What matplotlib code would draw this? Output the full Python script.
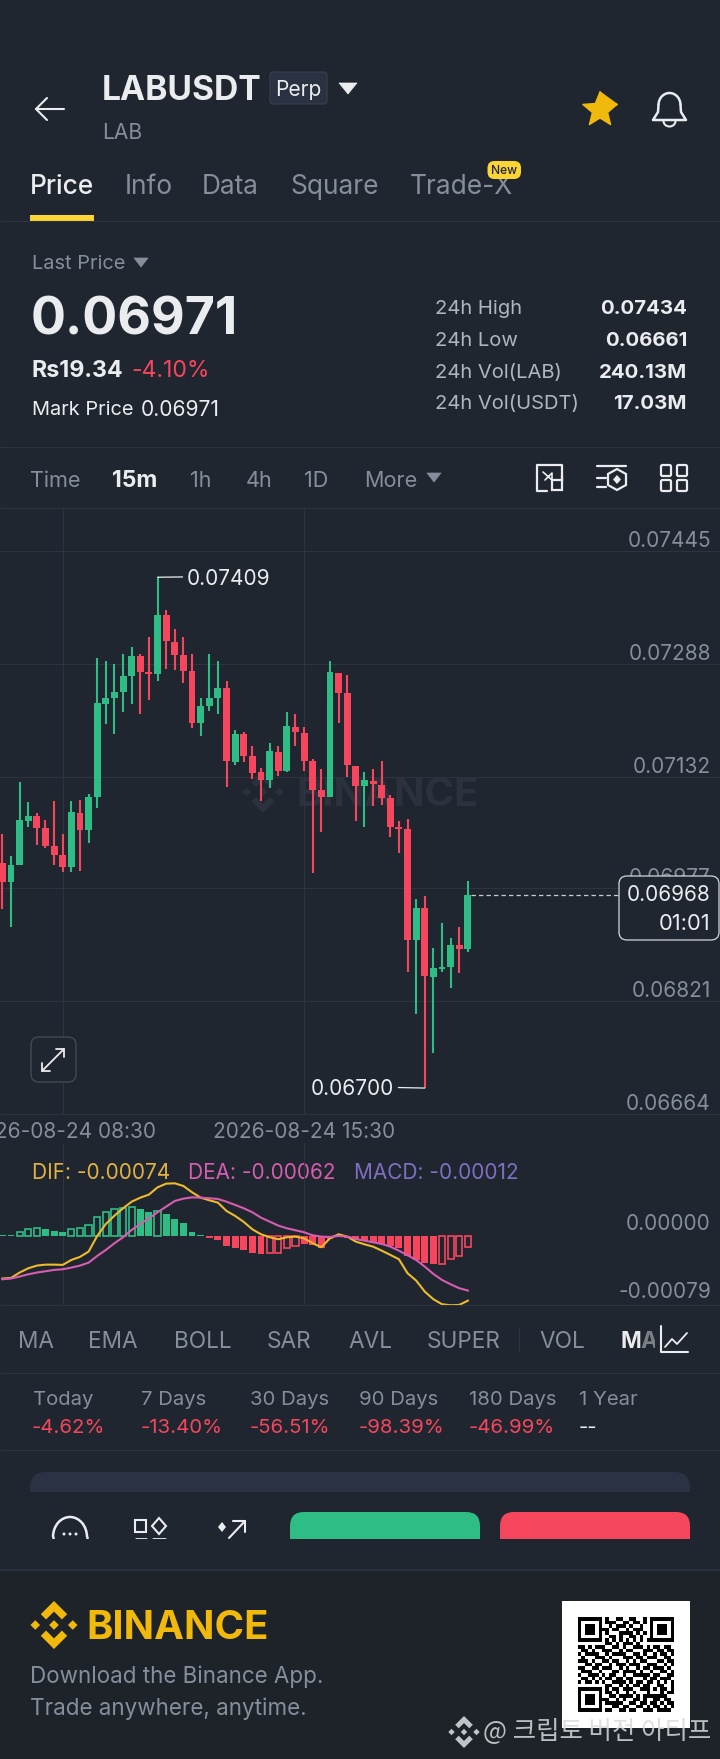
import numpy as np
import matplotlib
matplotlib.use("Agg")
import matplotlib.pyplot as plt
from matplotlib.patches import FancyBboxPatch, Polygon, Rectangle, Circle, Arc

# ---------- data (prices in 1e-5 USDT) ----------
highs = [7052.8,7022.7,7124.6,7097.7,7081.5,7072.2,7099,7052.8,7099,7100,7108.4,7296.8,7292.6,7288,7301.9,7312,7301.9,7326,7409,7363.9,7337.5,7326,7302.8,7241.7,7302.8,7292.6,7264.8,7196.3,
         7193.5,7175,7144.5,7179.2,7175,7221.3,7219.5,7200.9,7157,7143,7293.1,7276.4,7272.7,7147.2,7138.4,7143,7154.6,7107,7070.8,7073.6,6962.5,6967.1,6894.4,6928.7,6908.3,6924,6988]
lows = [6948.7,6924.1,7009.7,7063,7037.5,7032.9,7010.2,6999.5,6999.5,7001.9,7039.8,7088.4,7205.6,7191.7,7221.8,7233.4,7218.5,7238,7264.8,7282,7279.7,7262,7200,7188.9,7223.2,7218.5,7118.5,7147.7,
        7152.8,7129.2,7099.1,7116.2,7133.8,7138.4,7175,7139.8,6999.1,7055.1,7104.6,7207,7131.5,7071.3,7062,7092.1,7093.1,7048.1,7026.9,6860.6,6802.8,6700,6748.6,6860.6,6838.4,6859.7,6889.3]
opens = [7013,6985.7,7009.7,7071.3,7077.8,7061.6,7035.7,7023.6,7006.5,7082.4,7058.4,7103.7,7232.4,7240.8,7249.1,7271.3,7299.6,7277.4,7275,7356,7318.6,7301,7278.7,7206.9,7230.1,7240.8,7254.7,7151.9,
         7190.8,7160.7,7138,7126.9,7167.1,7140.3,7200.9,7192.1,7154.6,7113,7104.6,7275.9,7247.7,7147.2,7119.9,7126.4,7121.3,7103.2,7063,7060.2,6905.6,6949.5,6853.7,6865.7,6867.6,6899.1,6893]
closes = [6985.7,7009.7,7072.7,7077.8,7060.7,7036.6,7023.6,7007.4,7083.3,7058.4,7104.6,7234.8,7241.7,7249.1,7271.8,7299,7276.9,7274.6,7356,7320.4,7301.4,7278.7,7206.9,7229.7,7240.8,7254.7,7153.3,7190.8,
          7160.7,7137.5,7126.9,7168.1,7139.8,7202.8,7193.5,7154.6,7113.9,7104.2,7276.9,7248.2,7147.7,7119.9,7126.9,7122.2,7102.8,7063,7060.2,6905.6,6949.5,6855.1,6866.2,6868.5,6898.6,6892.6,6968]
price_ticks = [7445, 7288, 7132, 6977, 6821, 6664]
time_ticks = [7, 35]
time_labels = ["2026-08-24 08:30", "2026-08-24 15:30"]
last_price = 6968

# MACD, in 1e-5
dif = [-48.6,-47.9,-41.7,-36.8,-33.7,-32.6,-32.6,-32.9,-27.2,-23.7,-17.6,0.4,14.2,23.7,32.2,39.8,44.4,47.9,56.3,60.5,60.9,57.8,50.6,44.4,41.4,38.7,29.1,23.4,
       16.5,8,2.3,-1.1,-3.4,-1.1,-0.4,-2.3,-8,-12.6,-2.3,2.3,-0.4,-6.1,-9.2,-11.9,-16.5,-21.4,-26.4,-42.5,-50.9,-63.6,-72.4,-78.1,-79.3,-78.9,-74]
dea = [-49.4,-48.6,-46.3,-43.7,-41.7,-40.2,-38.7,-37.9,-36,-33.7,-30.3,-22.6,-15.7,-8,-1.1,7.3,14.2,20.7,27.6,34.1,40.6,43.3,44.8,44.4,43.7,42.9,39.8,36,
       32.2,27.6,21.4,16.9,12.3,9.2,6.9,4.6,1.1,-0.4,-0.8,0.4,-0.4,-3.1,-5,-6.9,-8.8,-11.9,-16.5,-21.8,-27.2,-34.9,-43.3,-50.2,-55.2,-59.7,-62.4]
hist = [1,1,4.6,8.8,10,8,6.5,4.6,8.4,9.6,13,22.6,28,31,33,34,31,27.6,29.5,25.7,20.3,15,5,1.5,-1.5,-3.8,-11.5,-13.8,
        -16,-19,-20.7,-18.8,-18.8,-13.4,-11,-8.4,-10.3,-13.4,-2.7,1.5,-1.5,-3.8,-5.7,-7.3,-8.4,-11,-13.4,-23,-26.8,-30.6,-32,-31.4,-26.4,-22.2,-12.3]
hollow = {2,3,4,8,9,10,11,12,13,14,15,18,31,32,33,34,51,52,53,54}
macd_ticks = [0, -79]

stat_names = ["24h High", "24h Low", "24h Vol(LAB)", "24h Vol(USDT)"]
stat_vals = ["0.07434", "0.06661", "240.13M", "17.03M"]
period_names = ["Today", "7 Days", "30 Days", "90 Days", "180 Days", "1 Year"]
period_vals = ["-4.62%", "-13.40%", "-56.51%", "-98.39%", "-46.99%", "--"]

QR = """
1111111010011001100101111111
1000001011100110110101000001
1011101001011101001001011101
1011101110110010111001011101
1011101010001111010101011101
1000001001101001101001000001
1111111010101010101011111111
0000000011010111010000000000
1101011100110100111010110110
0110100111001011000111011011
1011110010111100110100101101
0100011101000111011011100110
1110100110110010101100011011
0011011001011101110011100101
1100110111001010010110111010
0111001000110111101001001101
1001110101100100111110110011
0110101011011011000101101110
1011010100111101011011010101
0000000011001010110110011001
1111111010110111001110101101
1000001011010010100010001011
1011101001101111010111111100
1011101110010100110100110110
1011101011111001101101101011
1000001000110110011010110101
1111111011001101100111011110
""".split()

BG = "#20262F"; BG2 = "#1E2329"; GRID = "#2D3440"; GREY = "#848E9C"; WHITE = "#EAECEF"
GREEN = "#2EBD85"; RED = "#F6465D"; YEL = "#FCD535"; GOLD = "#F0B90B"
W, H = 720, 1759
FONT = "Inter"
plt.rcParams["font.family"] = [FONT, "DejaVu Sans"]

fig = plt.figure(figsize=(W/100, H/100), dpi=100, facecolor=BG)
ui = fig.add_axes([0, 0, 1, 1], zorder=0)
ui.set_xlim(0, W); ui.set_ylim(H, 0); ui.axis("off")
top = fig.add_axes([0, 0, 1, 1], zorder=5)
top.set_xlim(0, W); top.set_ylim(H, 0); top.axis("off"); top.patch.set_alpha(0)

def T(x, y, s, px, c=WHITE, w="normal", ha="left", ax=ui, **k):
    return ax.text(x, y + 0.36*px, s, fontsize=px*0.72, color=c, fontweight=w, ha=ha, va="baseline", **k)
def hl(y, x0=0, x1=W, c=GRID, ax=ui):
    ax.plot([x0, x1], [y, y], color=c, lw=0.8, solid_capstyle="butt")
def L(xs, ys, c=WHITE, lw=1.5, ax=ui):
    ax.plot(xs, ys, color=c, lw=lw, solid_capstyle="round", solid_joinstyle="round")
def tri(cx, y0, y1, hw, c):
    ui.add_patch(Polygon([[cx-hw, y0], [cx+hw, y0], [cx, y1]], closed=True, fc=c, ec=c, lw=0.5, joinstyle="round"))
def rr(x0, y0, x1, y1, r, fc="none", ec="none", lw=1, ax=ui, **k):
    p = FancyBboxPatch((x0+r, y0+r), x1-x0-2*r, y1-y0-2*r, boxstyle=f"round,pad={r},rounding_size={r}", fc=fc, ec=ec, lw=lw, **k)
    ax.add_patch(p); return p
def logo(cx, cy, s, c, ax=ui, **k):
    # Binance mark, s = half size
    d = lambda x, y, r: ax.add_patch(Polygon([[cx+x*s, cy+(y-r)*s], [cx+(x+r)*s, cy+y*s], [cx+x*s, cy+(y+r)*s], [cx+(x-r)*s, cy+y*s]], fc=c, ec="none", **k))
    d(0, 0, .2); d(-.78, 0, .2); d(.78, 0, .2)
    for sg in (1, -1):
        ax.add_patch(Polygon([[cx, cy-sg*s], [cx+.55*s, cy-sg*.45*s], [cx+.33*s, cy-sg*.23*s], [cx, cy-sg*.56*s], [cx-.33*s, cy-sg*.23*s], [cx-.55*s, cy-sg*.45*s]], fc=c, ec="none", **k))

LAB_PT = 15.0  # axis label size

# --- header ---
L([64, 36, 47], [109, 109, 98]); L([36, 47], [109, 120])
T(102, 88, "LABUSDT", 33.6, "#EAECEF", "bold")
rr(270, 72, 327, 104, 3, fc="#2A3140", ec="#3A4252", lw=0.8)
T(298.5, 88, "Perp", 21, WHITE, ha="center")
tri(348, 83, 94, 9, WHITE)
T(102, 131, "LAB", 21, GREY)
a = np.deg2rad(np.arange(-90, 360, 36)); rad = np.where(np.arange(len(a)) % 2 == 0, 18, 8)
ui.add_patch(Polygon(np.c_[600+rad*np.cos(a), 110+rad*np.sin(a)], fc=GOLD, ec=GOLD, lw=1, joinstyle="round"))
ui.add_patch(Arc((669.5, 105), 22, 24, theta1=180, theta2=360, color=WHITE, lw=1.8))
L([658.5, 658, 653, 686, 681, 680.5], [105, 112, 120, 120, 112, 105], lw=1.8)
ui.add_patch(Arc((669.5, 121), 12, 11, theta1=0, theta2=180, color=WHITE, lw=1.5))
for x, s, c in [(30, "Price", WHITE), (125, "Info", GREY), (202, "Data", GREY), (290, "Square", GREY), (410, "Trade-X", GREY)]:
    T(x, 185, s, 26.3, c, "medium" if s == "Price" else "normal")
ui.add_patch(Rectangle((30, 215), 64, 6, fc=YEL))
rr(487.5, 161, 521, 179, 7, fc=YEL, zorder=5)
T(504, 170, "New", 12, "#1E2329", "medium", ha="center", zorder=6)
hl(221)

# --- price panel ---
T(32, 262, "Last Price", 20, GREY); tri(141, 258, 267, 7, GREY)
T(31, 316, "0.06971", 52, WHITE, "bold")
T(31.5, 369, "Rs19.34", 23.2, WHITE, "bold"); T(131, 369, "-4.10%", 23, RED)
T(32, 408, "Mark Price", 20, WHITE); T(141, 408, "0.06971", 21, WHITE)
for y, n, v in zip([307, 339, 371, 402], stat_names, stat_vals):
    T(435, y, n, 20.2, "#B0B6C0"); T(687, y, v, 20.4, WHITE, "bold", ha="right")
hl(447)
for x, s, c, w in [(30, "Time", GREY, "normal"), (112, "15m", WHITE, "bold"), (190, "1h", GREY, "normal"), (246, "4h", GREY, "normal"), (304, "1D", GREY, "normal"), (364, "More", GREY, "normal")]:
    T(x, 479, s, 23 if s == "15m" else 21.6, c, w)
tri(434, 473, 482, 7, GREY)
# toolbar icons
L([562, 562, 537, 537, 547], [481, 465, 465, 491, 491], lw=1.6); L([562, 562], [476, 481], lw=1.6)
ui.add_patch(Rectangle((552, 480), 10, 10, fc="none", ec=WHITE, lw=1.6))
L([543, 552, 552, 545], [472, 480, 473, 480], lw=1.2)
L([597, 626], [466, 466], lw=1.6); L([597, 606], [478, 478], lw=1.6); L([597, 606], [487, 487], lw=1.6)
ui.add_patch(Polygon([[617, 469], [626, 474], [626, 485], [617, 490], [608, 485], [608, 474]], fc="none", ec=WHITE, lw=1.6))
ui.add_patch(Polygon([[617, 475], [621, 479.5], [617, 484], [613, 479.5]], fc=WHITE))
for x0 in (661, 677):
    for y0 in (465, 480):
        rr(x0, y0, x0+10, y0+11, 1.5, ec=WHITE, lw=1.6)
hl(508)

# --- candlestick axes ---
def px_rect(y0, y1):
    return [0, 1-y1/H, 1, (y1-y0)/H]
xmin, xmax = -2.4/8.62, (720-2.4)/8.62
PXU = 112.4/156  # pixels per 1e-5
pa = fig.add_axes(px_rect(508, 1114), zorder=2)
pa.patch.set_alpha(0)
pa.set_xlim(xmin, xmax)
pa.set_ylim(6664, 6664 + 606/PXU)
for s in pa.spines.values(): s.set_visible(False)
pa.set_yticks(price_ticks); pa.set_yticklabels([])
pa.set_xticks(time_ticks); pa.set_xticklabels([])
pa.tick_params(length=0)
pa.grid(True, color=GRID, lw=0.8); pa.set_axisbelow(True)
logo(263, 792, 21, "#2B323E", ax=ui)
T(296, 792, "BINANCE", 40, "#2B323E", "bold")
ix = np.arange(len(opens))
o, c_, h, l = map(np.array, (opens, closes, highs, lows))
col = np.where(c_ >= o, GREEN, RED)
pa.vlines(ix, l, h, colors=col, lw=1.5, zorder=3)
body = np.maximum(np.abs(c_-o), 2.0)
pa.bar(ix, body, bottom=np.minimum(o, c_), width=0.8, color=col, zorder=4)
hi = int(np.argmax(h)); lo = int(np.argmin(l))
# price labels at the right, sitting above the grid lines
for v in price_ticks:
    pa.annotate(f"{v/1e5:.5f}", xy=(1, v), xycoords=pa.get_yaxis_transform(), xytext=(-6.5, 0), textcoords="offset points",
                ha="right", va="bottom", fontsize=LAB_PT, color=GREY)
# extremes
pa.annotate(f"{h[hi]/1e5:.5f}", xy=(hi, h[hi]), xytext=(21, -1.5), textcoords="offset points", va="center", ha="left", fontsize=15, color=WHITE,
            arrowprops=dict(arrowstyle="-", color=WHITE, lw=0.9, shrinkA=1, shrinkB=0, relpos=(0, 0.62)))
pa.annotate(f"{l[lo]/1e5:.5f}", xy=(lo, l[lo]), xytext=(-22, -1), textcoords="offset points", va="center", ha="right", fontsize=15, color=WHITE,
            arrowprops=dict(arrowstyle="-", color=WHITE, lw=0.9, shrinkA=1, shrinkB=0, relpos=(1, 0.6)))
# last price
pa.plot([len(opens)-0.6, (619-2.4)/8.62], [last_price]*2, color="#C8CCD2", lw=0.9, ls=(0, (3.5, 2.5)), zorder=3)
rr(619, 876, 719, 940, 8, fc=BG, ec="#D5D8DC", lw=0.9, ax=top)
T(710, 894, f"{last_price/1e5:.5f}", 20.8, WHITE, ha="right", ax=top)
T(710, 922, "01:01", 22, WHITE, ha="right", ax=top)
# expand button
rr(31, 1037, 76, 1082, 8, fc=BG, ec="#474D57", lw=0.9, ax=top)
L([42, 64], [1071, 1049], ax=top, lw=1.3)
L([42, 42, 50], [1063, 1071, 1071], ax=top, lw=1.3); L([56, 64, 64], [1049, 1049, 1057], ax=top, lw=1.3)
hl(1114)
for i, s in zip(time_ticks, time_labels):
    pa.annotate(s, xy=(i, 0), xycoords=pa.get_xaxis_transform(), xytext=(0, -13), textcoords="offset points", ha="center", va="center",
                fontsize=15, color=GREY, annotation_clip=False)

# --- MACD axes ---
T(32, 1172, f"DIF: {dif[-1]/1e5:.5f}", 20.8, "#E3B341")
T(188, 1172, f"DEA: {dea[-1]/1e5:.5f}", 20.8, "#D65DB1")
T(354, 1172, f"MACD: {hist[-1]/1e5:.5f}", 20.8, "#7F6FC4")
PXM = 0.87
ma = fig.add_axes(px_rect(1143, 1305), zorder=2)
ma.patch.set_alpha(0)
ma.set_xlim(xmin, xmax); ma.set_ylim(-79, (1236.3-1143)/PXM)
for s in ma.spines.values(): s.set_visible(False)
ma.set_yticks(macd_ticks); ma.set_yticklabels([])
ma.set_xticks(time_ticks); ma.set_xticklabels([])
ma.tick_params(length=0); ma.grid(True, axis="x", color=GRID, lw=0.8); ma.set_axisbelow(True)
for i, v in enumerate(hist):
    cc = GREEN if v >= 0 else RED
    if i in hollow:
        ma.bar(i, v, width=0.72, fc="none", ec=cc, lw=1.2, zorder=3)
    else:
        ma.bar(i, v, width=0.8, color=cc, zorder=3)
ma.plot(ix, dif, color="#EDBB2B", lw=1.5, zorder=4)
ma.plot(ix, dea, color="#D65DB1", lw=1.5, zorder=5)
for v in macd_ticks:
    ma.annotate(f"{v/1e5:.5f}", xy=(1, v), xycoords=ma.get_yaxis_transform(), xytext=(-6.5, 2), textcoords="offset points",
                ha="right", va="bottom", fontsize=LAB_PT, color=GREY)
hl(1305, ax=top)

# --- indicator tabs ---
for x, s in [(18.5, "MA"), (88.5, "EMA"), (174, "BOLL"), (267, "SAR"), (348, "AVL"), (427, "SUPER"), (539, "VOL")]:
    T(x, 1340, s, 22.6, GREY)
ui.plot([519, 519], [1328, 1352], color=GRID, lw=0.8)
t = T(620, 1340, "MA", 22.6, WHITE, "bold")
ui.add_patch(Rectangle((640, 1325), 20, 30, fc=BG, alpha=0.55, zorder=5))
ui.add_patch(Rectangle((655, 1325), 40, 30, fc=BG, zorder=5))
L([661, 661, 688], [1326, 1352, 1352], ax=top, lw=1.5)
L([665, 672, 677, 687], [1347, 1339, 1344, 1333], ax=top, lw=1.3)
hl(1373)
px = [32.5, 141, 250, 359, 469, 579]
for x, n, v in zip(px, period_names, period_vals):
    T(x, 1398, n, 20.3, GREY)
    T(x-0.5, 1426, v, 20.4, RED if v != "--" else WHITE)
hl(1450)

# --- bottom bar (cut off) ---
rr(30, 1472, 690, 1530, 16, fc="#2B3244").set_clip_path(Rectangle((0, 1472), W, 20, transform=ui.transData))
rr(290, 1512, 480, 1580, 14, fc=GREEN).set_clip_path(Rectangle((0, 1500), W, 39, transform=ui.transData))
rr(500, 1512, 690, 1580, 14, fc=RED).set_clip_path(Rectangle((0, 1500), W, 39, transform=ui.transData))
ui.add_patch(Arc((70, 1537), 34, 40, theta1=180, theta2=360, color=WHITE, lw=1.8))
L([53, 53], [1537, 1539], lw=1.8); L([87, 87], [1537, 1539], lw=1.8)
for x in (64, 70, 76):
    ui.add_patch(Circle((x, 1534), 1.5, fc=WHITE))
ui.add_patch(Rectangle((135, 1520), 11, 12, fc="none", ec=WHITE, lw=1.5))
ui.add_patch(Polygon([[159, 1518], [166, 1526], [159, 1534], [152, 1526]], fc="none", ec=WHITE, lw=1.5))
L([136, 146], [1538.5, 1538.5], lw=2); L([153, 165], [1538.5, 1538.5], lw=2)
ui.add_patch(Polygon([[222, 1522], [226, 1527], [222, 1532], [218, 1527]], fc=WHITE))
L([229, 245], [1538, 1521]); L([233, 245, 245], [1521, 1521, 1532])
ui.add_patch(Rectangle((0, 1539), W, 31, fc=BG, zorder=3))

# --- footer ---
ui.add_patch(Rectangle((0, 1570), W, H-1570, fc=BG2, zorder=3))
ui.plot([0, W], [1570, 1570], color=GRID, lw=1.2, zorder=4)
logo(54, 1625, 24, GOLD, zorder=4)
T(86, 1625, "BINANCE", 40, GOLD, "bold", zorder=4)
T(30, 1675, "Download the Binance App.", 22.4, GREY, zorder=4)
T(30, 1707, "Trade anywhere, anytime.", 22.4, GREY, zorder=4)
ui.add_patch(Rectangle((562, 1601), 128, 127, fc="white", zorder=4))
qr = np.array([[0 if ch == "1" else 1 for ch in r] for r in QR])
ui.imshow(qr, cmap="gray", vmin=0, vmax=1, extent=(578, 674, 1712, 1617), zorder=5, aspect="auto", interpolation="nearest")
ui.set_xlim(0, W); ui.set_ylim(H, 0)
logo(464, 1732, 16, "#E0E2E5", ax=top, alpha=0.85)
top.text(483, 1739, "@ 크립토 버전 아티프", fontsize=18.3, color="#D8DADD", alpha=0.85, family=["Noto Sans CJK KR", "DejaVu Sans"], va="baseline")

fig.savefig("out.png", dpi=100, facecolor=BG)
